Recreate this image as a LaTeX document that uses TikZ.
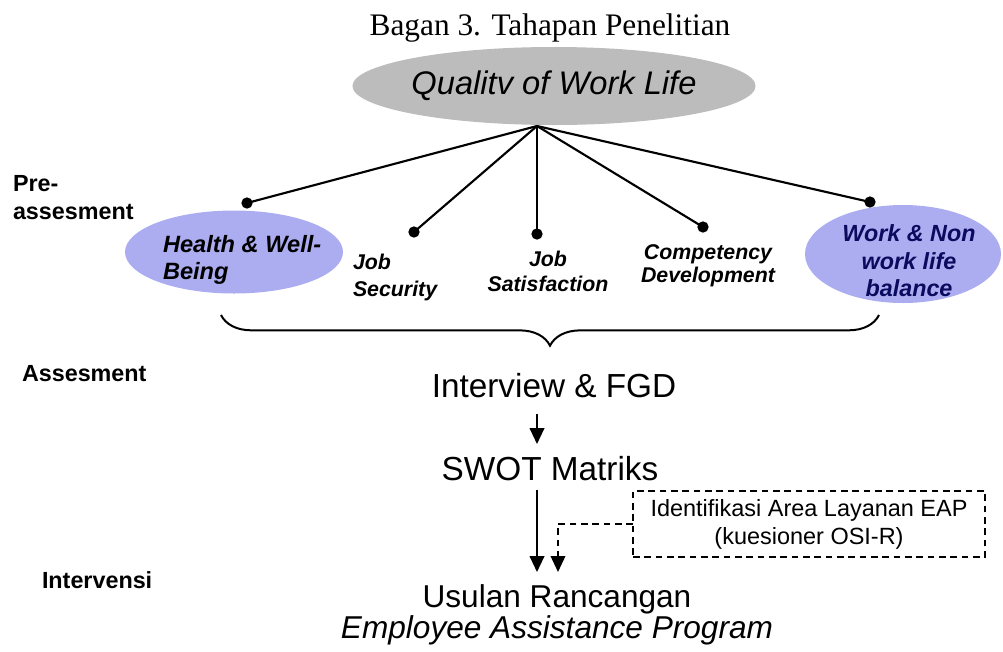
\documentclass[tikz,border=0pt]{standalone}
\usepackage{fontspec}
\setmainfont{Liberation Serif}
\newfontfamily\arial{Liberation Sans}
\usetikzlibrary{arrows.meta,decorations.pathreplacing,shapes.geometric,calc}
\definecolor{qgray}{RGB}{188,188,188}
\definecolor{qblue}{RGB}{172,172,240}
\definecolor{navy}{RGB}{10,10,95}
\newcommand\fsz[2]{\fontsize{#1}{#2}\selectfont}
\begin{document}
\begin{tikzpicture}[x=0.75pt,y=-0.75pt,
  every node/.style={inner sep=0pt,outer sep=0pt},
  spoke/.style={line width=1.6pt},
  dotnode/.style={circle,fill=black,minimum size=8.5pt},
  lbl/.style={font=\arial\bfseries\fsz{17.5}{21},align=left},
  facet/.style={font=\arial\bfseries\itshape\fsz{16}{20}},
  stage/.style={font=\arial\fsz{25}{30}},
  arr/.style={line width=1.5pt,-{Triangle[length=12pt,width=11pt]}},
  dashline/.style={line width=1.1pt,dash pattern=on 5pt off 3.5pt}
]
\useasboundingbox (0,0) rectangle (1003,651);

\node[anchor=base,font=\fsz{23.5}{28}] (title) at (550,35) {Bagan 3. Tahapan Penelitian};

\node[ellipse,fill=qgray,minimum width=294.75pt,minimum height=58.5pt,
      font=\arial\itshape\fsz{24.5}{29}] (qwl) at (554,86) {Qualitv of Work Life};
\coordinate (apex) at (537,126);

% ovals
\node[ellipse,fill=qblue,minimum width=163.5pt,minimum height=62.25pt] (hw) at (234,252) {};
\node[ellipse,fill=qblue,minimum width=147pt,minimum height=73.5pt] (wl) at (903,254) {};

% dots
\node[dotnode] (d1) at (247,203) {};
\node[dotnode] (d2) at (414,232) {};
\node[dotnode] (d3) at (537,234) {};
\node[dotnode] (d4) at (703,227) {};
\node[dotnode] (d5) at (870,202) {};
\foreach \d in {d1,d2,d3,d4,d5} \draw[spoke] (apex) -- (\d.center);

% facet texts
\node[anchor=north west,font=\arial\bfseries\itshape\fsz{17.7}{20.25},align=left] (hwt) at (163,235) {Health \& Well-\\Being};
\node[anchor=north west,facet,font=\arial\bfseries\itshape\fsz{16}{20.25},align=left] (js) at (353,254.5) {Job\\Security};
\node[anchor=north,facet,font=\arial\bfseries\itshape\fsz{16}{18.75},align=center] (jsat) at (548,251.5) {Job\\Satisfaction};
\node[anchor=north,facet,font=\arial\bfseries\itshape\fsz{16}{17.25},align=center] (cd) at (708,244.3) {Competency\\Development};
\node[anchor=north,font=\arial\bfseries\itshape\fsz{17.5}{20.6},text=navy,align=center] (wlt) at (909,225) {Work \& Non\\work life\\balance};

% stage labels
\node[lbl,anchor=north west] (pre) at (13,175) {Pre-\\assesment};
\node[lbl,anchor=base west] (ass) at (22,381) {Assesment};
\node[lbl,anchor=base west] (int) at (42,588) {Intervensi};

% brace
\coordinate (bl) at (221,315);
\coordinate (br) at (879,315);
\draw[line width=1.5pt,decorate,decoration={brace,mirror,amplitude=23pt}] (bl) -- (br);

% stages
\node[stage,anchor=base] (ifgd) at (554,397) {Interview \& FGD};
\node[stage,anchor=base] (swot) at (550,480) {SWOT Matriks};
\node[anchor=north,font=\arial\fsz{23.7}{20.25},align=center] (usul) at (557,585) {Usulan Rancangan\\\textit{Employee Assistance Program}};

\node[draw,dashline,minimum width=264pt,minimum height=49.5pt,align=center,
      font=\arial\fsz{17.6}{21}] (box) at (809,524) {Identifikasi Area Layanan EAP\\(kuesioner OSI-R)};

\coordinate (ax) at (537,0);
\coordinate (dx) at (558,0);
\draw[arr] ($(ifgd.base -| ax)+(0,17)$) -- ($(swot.base -| ax)+(0,-36)$);
\draw[arr] ($(swot.base -| ax)+(0,10)$) -- ($(usul.north -| ax)+(0,-13)$);
\draw[dashline,-{Triangle[length=12pt,width=11pt]}] (box.west) -| ($(usul.north -| dx)+(0,-13)$);
\end{tikzpicture}
\end{document}
